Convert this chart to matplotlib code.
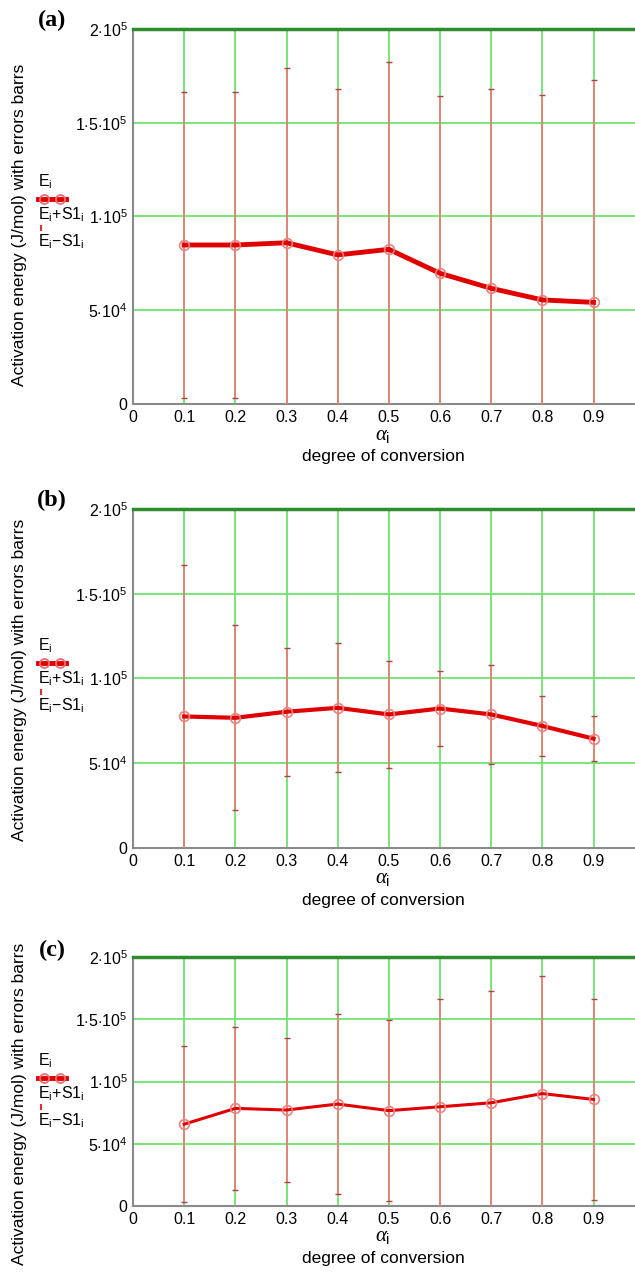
import matplotlib
matplotlib.use('Agg')
import matplotlib.pyplot as plt
import numpy as np

plt.rcParams['font.family'] = ['Liberation Sans', 'DejaVu Sans']
plt.rcParams['mathtext.fontset'] = 'custom'
plt.rcParams['mathtext.rm'] = 'Liberation Sans'
plt.rcParams['mathtext.it'] = 'Liberation Serif:italic'
plt.rcParams['mathtext.bf'] = 'Liberation Sans:bold'

# degree of conversion
alpha = [0.1, 0.2, 0.3, 0.4, 0.5, 0.6, 0.7, 0.8, 0.9]

# activation energy E_i and standard deviation S1_i (J/mol)
E_a = [84800, 84800, 86000, 79500, 82500, 69700, 61700, 55500, 54200]
S_a = [81400, 81400, 93000, 88500, 99700, 94300, 106300, 109100, 118400]

E_b = [77600, 76800, 80400, 82700, 78800, 82300, 78800, 72000, 64500]
S_b = [89200, 54600, 37700, 38100, 31700, 22300, 29300, 17700, 13300]

E_c = [65700, 78400, 77100, 81900, 76600, 79700, 82900, 90300, 85600]
S_c = [62800, 65400, 58000, 72000, 72500, 86700, 90100, 94300, 80800]

yticks = [0, 50000, 100000, 150000, 200000]
ylabels = ['0', r'$\mathrm{5{\cdot}10^4}$', r'$\mathrm{1{\cdot}10^5}$',
           r'$\mathrm{1{\cdot}5{\cdot}10^5}$', r'$\mathrm{2{\cdot}10^5}$']
xticks = [0, 0.1, 0.2, 0.3, 0.4, 0.5, 0.6, 0.7, 0.8, 0.9]
xlabels = ['0', '0.1', '0.2', '0.3', '0.4', '0.5', '0.6', '0.7', '0.8', '0.9']

W, H = 635, 1273
fig = plt.figure(figsize=(W / 100, H / 100), dpi=100)

# tag, E, S, axes top/bottom px, line width, tag y, ylabel centre y, legend line y
panels = [
    ('(a)', E_a, S_a, 29, 404, 3.5, 20, 225, 199),
    ('(b)', E_b, S_b, 509, 848, 3.0, 500, 680, 663),
    ('(c)', E_c, S_c, 957, 1206, 2.2, 950, 1104, 1078),
]

for tag, E, S, top, bot, lw, tag_y, lab_y, leg_y in panels:
    left = 133
    ax = fig.add_axes([left / W, 1 - bot / H, (W - left + 2) / W, (bot - top) / H])
    E = np.array(E)
    S = np.array(S)

    ax.errorbar(alpha, E, yerr=S, fmt='none', ecolor='#f07878', elinewidth=1.2, zorder=3)
    # dark caps
    ax.plot(alpha, E + S, linestyle='none', marker='_', color='#b04040', ms=4, mew=1.0, zorder=4)
    ax.plot(alpha, E - S, linestyle='none', marker='_', color='#b04040', ms=4, mew=1.0, zorder=4)
    ax.plot(alpha, E, color='#e00000', lw=lw, marker='o', ms=7,
            mfc='none', mec='#f08080', mew=1.2, zorder=5)

    ax.set_xlim(0, 0.985)
    ax.set_ylim(0, 200000)
    ax.set_xticks(xticks)
    ax.set_xticklabels(xlabels)
    ax.set_yticks(yticks)
    ax.set_yticklabels(ylabels)
    ax.tick_params(length=0, labelsize=11.5, pad=4)
    ax.grid(True, color='#6ee46e', lw=1.3, zorder=1)
    for s in ['left', 'bottom']:
        ax.spines[s].set_color('#8a8a8a')
        ax.spines[s].set_linewidth(1.5)
    ax.spines['right'].set_visible(False)
    ax.spines['top'].set_color('#2e8b2e')
    ax.spines['top'].set_linewidth(2.5)
    ax.set_axisbelow(True)

    # x label: alpha_i and a second line underneath
    fig.text(383 / W, 1 - (bot + 31) / H, r'$\alpha_{\mathrm{i}}$', ha='center', va='center',
             fontsize=15)
    fig.text(383 / W, 1 - (bot + 53) / H, 'degree of conversion', ha='center', va='center',
             fontsize=12.5)

    fig.text(20 / W, 1 - lab_y / H, 'Activation energy (J/mol) with errors barrs',
             rotation=90, ha='center', va='center', fontsize=12.5)
    fig.text(52 / W, 1 - tag_y / H, tag, ha='center', va='center', fontsize=17.5,
             fontweight='bold', family='Liberation Serif')

    # legend (Mathcad style)
    fig.text(38 / W, 1 - (leg_y - 17) / H, r'$\mathrm{E_i}$', ha='left', va='center', fontsize=11.5)
    fig.lines.append(plt.Line2D([38 / W, 66 / W], [1 - leg_y / H] * 2, transform=fig.transFigure,
                                color='#e00000', lw=3.5))
    fig.lines.append(plt.Line2D([44 / W, 60 / W], [1 - leg_y / H] * 2, transform=fig.transFigure,
                                linestyle='none', marker='o', ms=6.5,
                                mfc='none', mec='#f07070', mew=1.3))
    fig.text(38 / W, 1 - (leg_y + 16) / H, r'$\mathrm{E_i{+}S1_i}$', ha='left', va='center', fontsize=11.5)
    fig.lines.append(plt.Line2D([41 / W, 41 / W], [1 - (leg_y + 27) / H, 1 - (leg_y + 31) / H],
                                transform=fig.transFigure, color='#e03030', lw=1.5))
    fig.text(38 / W, 1 - (leg_y + 43) / H, r'$\mathrm{E_i{-}S1_i}$', ha='left', va='center', fontsize=11.5)

fig.savefig('out.png', dpi=100)
